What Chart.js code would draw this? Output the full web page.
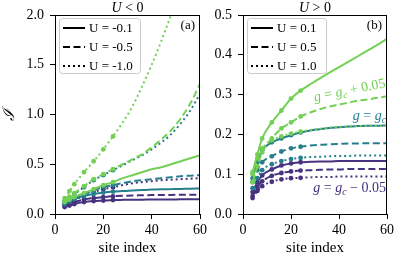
<!DOCTYPE html>
<html>
<head>
<meta charset="utf-8">
<script src="https://cdn.jsdelivr.net/npm/chart.js@4.4.0/dist/chart.umd.min.js"></script>
<style>
  html, body { margin: 0; padding: 0; background: #fff; }
  #wrap { position: relative; width: 395px; height: 257px; }
  canvas { position: absolute; top: 0; }
</style>
</head>
<body>
<div id="wrap">
  <canvas id="chartA" width="214" height="257" style="left:0"></canvas>
  <canvas id="chartB" width="190" height="257" style="left:205px"></canvas>
</div>
<script>
// site indices where the curves were read
const sites = [4, 6, 8, 12, 16, 20, 24, 28, 32, 36, 40, 44, 48, 52, 56, 60];
const markerMaxSite = 24;

// panel (a), U < 0
const aLabels = ['U = -0.1', 'U = -0.5', 'U = -1.0'];
const aGreenSolid   = [0.12, 0.145, 0.17, 0.21, 0.25, 0.29, 0.32, 0.36, 0.39, 0.42, 0.45, 0.47, 0.50, 0.53, 0.56, 0.59];
const aGreenDashed  = [0.14, 0.175, 0.21, 0.28, 0.35, 0.40, 0.45, 0.50, 0.55, 0.60, 0.67, 0.75, 0.84, 0.96, 1.11, 1.31];
const aGreenDotted  = [0.16, 0.23, 0.30, 0.42, 0.53, 0.65, 0.78, 0.92, 1.08, 1.28, 1.50, 1.74, 2.0, 2.3, 2.6, 2.9];
const aTealSolid    = [0.10, 0.125, 0.15, 0.18, 0.20, 0.215, 0.225, 0.23, 0.235, 0.24, 0.245, 0.248, 0.25, 0.252, 0.255, 0.257];
const aTealDashed   = [0.11, 0.135, 0.16, 0.20, 0.24, 0.27, 0.29, 0.31, 0.33, 0.34, 0.35, 0.36, 0.37, 0.38, 0.385, 0.39];
const aTealDotted   = [0.13, 0.165, 0.20, 0.27, 0.34, 0.39, 0.44, 0.49, 0.54, 0.59, 0.65, 0.72, 0.80, 0.91, 1.04, 1.21];
const aPurpleSolid  = [0.07, 0.085, 0.10, 0.12, 0.13, 0.135, 0.14, 0.142, 0.143, 0.144, 0.145, 0.146, 0.146, 0.147, 0.147, 0.147];
const aPurpleDashed = [0.08, 0.10, 0.12, 0.145, 0.16, 0.17, 0.178, 0.183, 0.186, 0.188, 0.19, 0.191, 0.192, 0.193, 0.194, 0.195];
const aPurpleDotted = [0.09, 0.115, 0.14, 0.18, 0.22, 0.25, 0.27, 0.29, 0.31, 0.32, 0.33, 0.34, 0.345, 0.35, 0.355, 0.36];

// panel (b), U > 0
const bLabels = ['U = 0.1', 'U = 0.5', 'U = 1.0'];
const bGreenSolid   = [0.105, 0.15, 0.19, 0.23, 0.26, 0.29, 0.31, 0.326, 0.341, 0.355, 0.369, 0.383, 0.397, 0.411, 0.425, 0.44];
const bGreenDashed  = [0.08, 0.12, 0.155, 0.19, 0.215, 0.23, 0.245, 0.255, 0.263, 0.27, 0.275, 0.28, 0.285, 0.288, 0.292, 0.296];
const bGreenDotted  = [0.10, 0.14, 0.165, 0.185, 0.195, 0.202, 0.207, 0.211, 0.214, 0.217, 0.219, 0.22, 0.221, 0.222, 0.222, 0.223];
const bTealSolid    = [0.09, 0.13, 0.16, 0.18, 0.19, 0.198, 0.205, 0.21, 0.213, 0.216, 0.218, 0.22, 0.221, 0.222, 0.222, 0.223];
const bTealDashed   = [0.08, 0.11, 0.13, 0.145, 0.157, 0.165, 0.169, 0.172, 0.174, 0.175, 0.176, 0.177, 0.177, 0.178, 0.178, 0.178];
const bTealDotted   = [0.065, 0.09, 0.11, 0.125, 0.133, 0.138, 0.141, 0.143, 0.144, 0.145, 0.146, 0.146, 0.147, 0.147, 0.147, 0.147];
const bPurpleSolid  = [0.055, 0.08, 0.097, 0.112, 0.122, 0.127, 0.13, 0.131, 0.132, 0.132, 0.133, 0.133, 0.133, 0.133, 0.133, 0.133];
const bPurpleDashed = [0.045, 0.068, 0.082, 0.096, 0.103, 0.107, 0.109, 0.11, 0.111, 0.112, 0.112, 0.113, 0.113, 0.113, 0.113, 0.113];
const bPurpleDotted = [0.04, 0.058, 0.07, 0.081, 0.087, 0.09, 0.091, 0.092, 0.093, 0.093, 0.094, 0.094, 0.094, 0.094, 0.094, 0.094];

const xTicks = [0, 20, 40, 60];

const PURPLE = '#46327e';
const TEAL = '#277f8e';
const GREEN = '#73d055';
const DASHES = [[], [7, 3.5], [2, 3]];
const SERIF = '"Liberation Serif", "DejaVu Serif", serif';

function series(values, color, styleIdx) {
    return {
        data: sites.map((s, i) => ({ x: s, y: values[i] })),
        borderColor: color,
        backgroundColor: color,
        borderWidth: 2,
        borderDash: DASHES[styleIdx],
        pointRadius: ctx => (sites[ctx.dataIndex] <= markerMaxSite ? 2.4 : 0),
        pointBorderWidth: 0,
        pointHoverRadius: 0,
        cubicInterpolationMode: 'monotone',
        fill: false
    };
}

// draw a run of text pieces: {t, it (italic), sub (subscript)}
function mathText(ctx, pieces, x, y, size, align) {
    const fontOf = p => (p.it ? 'italic ' : '') + (p.sub ? size * 0.7 : size) + 'px ' + SERIF;
    let w = 0;
    pieces.forEach(p => { ctx.font = fontOf(p); w += ctx.measureText(p.t).width; });
    let cx = align === 'center' ? x - w / 2 : (align === 'right' ? x - w : x);
    ctx.textAlign = 'left';
    ctx.textBaseline = 'alphabetic';
    pieces.forEach(p => {
        ctx.font = fontOf(p);
        ctx.fillText(p.t, cx, p.sub ? y + size * 0.2 : y);
        cx += ctx.measureText(p.t).width;
    });
}

const decor = {
    id: 'decor',
    afterDraw(chart, args, opts) {
        const ctx = chart.ctx;
        const a = chart.chartArea;
        ctx.save();
        // frame
        ctx.strokeStyle = '#000';
        ctx.lineWidth = 1;
        ctx.strokeRect(a.left + 0.5, a.top + 0.5, a.right - a.left - 1, a.bottom - a.top);
        // title
        ctx.fillStyle = '#000';
        mathText(ctx, [{ t: 'U', it: true }, { t: opts.title }], (a.left + a.right) / 2, 12, 14, 'center');
        // panel label
        ctx.font = '13px ' + SERIF;
        ctx.textAlign = 'right';
        ctx.textBaseline = 'middle';
        ctx.fillText(opts.panel, a.right - 5, 26);
        // legend
        const lx = a.left + 4, ly = a.top + 3, lw = opts.legendW, lh = 55;
        ctx.fillStyle = 'rgba(255,255,255,0.85)';
        ctx.strokeStyle = '#cccccc';
        ctx.lineWidth = 1;
        ctx.beginPath();
        ctx.roundRect(lx + 0.5, ly + 0.5, lw, lh, 3);
        ctx.fill();
        ctx.stroke();
        opts.labels.forEach((lab, i) => {
            const yy = ly + 10 + i * 19;
            ctx.strokeStyle = '#000';
            ctx.lineWidth = 2;
            ctx.setLineDash(DASHES[i]);
            ctx.beginPath();
            ctx.moveTo(lx + 4, yy);
            ctx.lineTo(lx + 26, yy);
            ctx.stroke();
            ctx.setLineDash([]);
            ctx.fillStyle = '#000';
            ctx.font = '13px ' + SERIF;
            ctx.textAlign = 'left';
            ctx.textBaseline = 'middle';
            ctx.fillText(lab, lx + 30, yy + 1);
        });
        // curve annotations
        (opts.notes || []).forEach(n => {
            ctx.save();
            ctx.translate(n.x, n.y);
            ctx.rotate(n.rot || 0);
            ctx.fillStyle = n.color;
            mathText(ctx, n.pieces, 0, 0, 14, 'right');
            ctx.restore();
        });
        ctx.restore();
    }
};

function makeChart(id, datasets, yMax, yStep, yWidth, rightPad, yTitle, decorOpts) {
    new Chart(document.getElementById(id), {
        type: 'line',
        data: { datasets: datasets },
        options: {
            responsive: false,
            animation: false,
            events: [],
            layout: { padding: { left: 0, right: rightPad, top: 15, bottom: 0 } },
            plugins: { legend: { display: false }, tooltip: { enabled: false }, decor: decorOpts },
            scales: {
                x: {
                    type: 'linear', min: 0, max: 60,
                    afterBuildTicks: s => { s.ticks = xTicks.map(v => ({ value: v })); },
                    ticks: { color: '#000', font: { family: SERIF, size: 14 }, padding: 3, maxRotation: 0 },
                    grid: { drawOnChartArea: false, color: '#000', tickLength: 5 },
                    border: { color: '#000', width: 1 },
                    title: { display: true, text: 'site index', color: '#000', font: { family: SERIF, size: 15 }, padding: { top: 0, bottom: 0 } },
                    afterFit: s => { s.height = 43; s.paddingLeft = 0; s.paddingRight = 0; }
                },
                y: {
                    min: 0, max: yMax,
                    ticks: { stepSize: yStep, color: '#000', font: { family: SERIF, size: 14 }, padding: 6, callback: v => v.toFixed(1) },
                    grid: { drawOnChartArea: false, color: '#000', tickLength: 5 },
                    border: { color: '#000', width: 1 },
                    title: { display: !!yTitle, text: yTitle, color: '#000', font: { family: SERIF, size: 16, style: 'italic' }, padding: 0 },
                    afterFit: s => { s.width = yWidth; }
                }
            }
        },
        plugins: [decor]
    });
}

makeChart('chartA', [
    series(aGreenSolid, GREEN, 0), series(aGreenDashed, GREEN, 1), series(aGreenDotted, GREEN, 2),
    series(aTealSolid, TEAL, 0), series(aTealDashed, TEAL, 1), series(aTealDotted, TEAL, 2),
    series(aPurpleSolid, PURPLE, 0), series(aPurpleDashed, PURPLE, 1), series(aPurpleDotted, PURPLE, 2)
], 2.0, 0.5, 55, 14, 'ℐ', {
    title: ' < 0', panel: '(a)', labels: aLabels, legendW: 81
});

makeChart('chartB', [
    series(bGreenSolid, GREEN, 0), series(bGreenDashed, GREEN, 1), series(bGreenDotted, GREEN, 2),
    series(bTealSolid, TEAL, 0), series(bTealDashed, TEAL, 1), series(bTealDotted, TEAL, 2),
    series(bPurpleSolid, PURPLE, 0), series(bPurpleDashed, PURPLE, 1), series(bPurpleDotted, PURPLE, 2)
], 0.5, 0.1, 38, 8, '', {
    title: ' > 0', panel: '(b)', labels: bLabels, legendW: 79,
    notes: [
        { x: 181, y: 87, rot: -0.2, color: GREEN, pieces: [{ t: 'g', it: true }, { t: ' = ' }, { t: 'g', it: true }, { t: 'c', it: true, sub: true }, { t: ' + 0.05' }] },
        { x: 181, y: 120, rot: 0, color: TEAL, pieces: [{ t: 'g', it: true }, { t: ' = ' }, { t: 'g', it: true }, { t: 'c', it: true, sub: true }] },
        { x: 181, y: 192, rot: 0, color: PURPLE, pieces: [{ t: 'g', it: true }, { t: ' = ' }, { t: 'g', it: true }, { t: 'c', it: true, sub: true }, { t: ' − 0.05' }] }
    ]
});
</script>
</body>
</html>
